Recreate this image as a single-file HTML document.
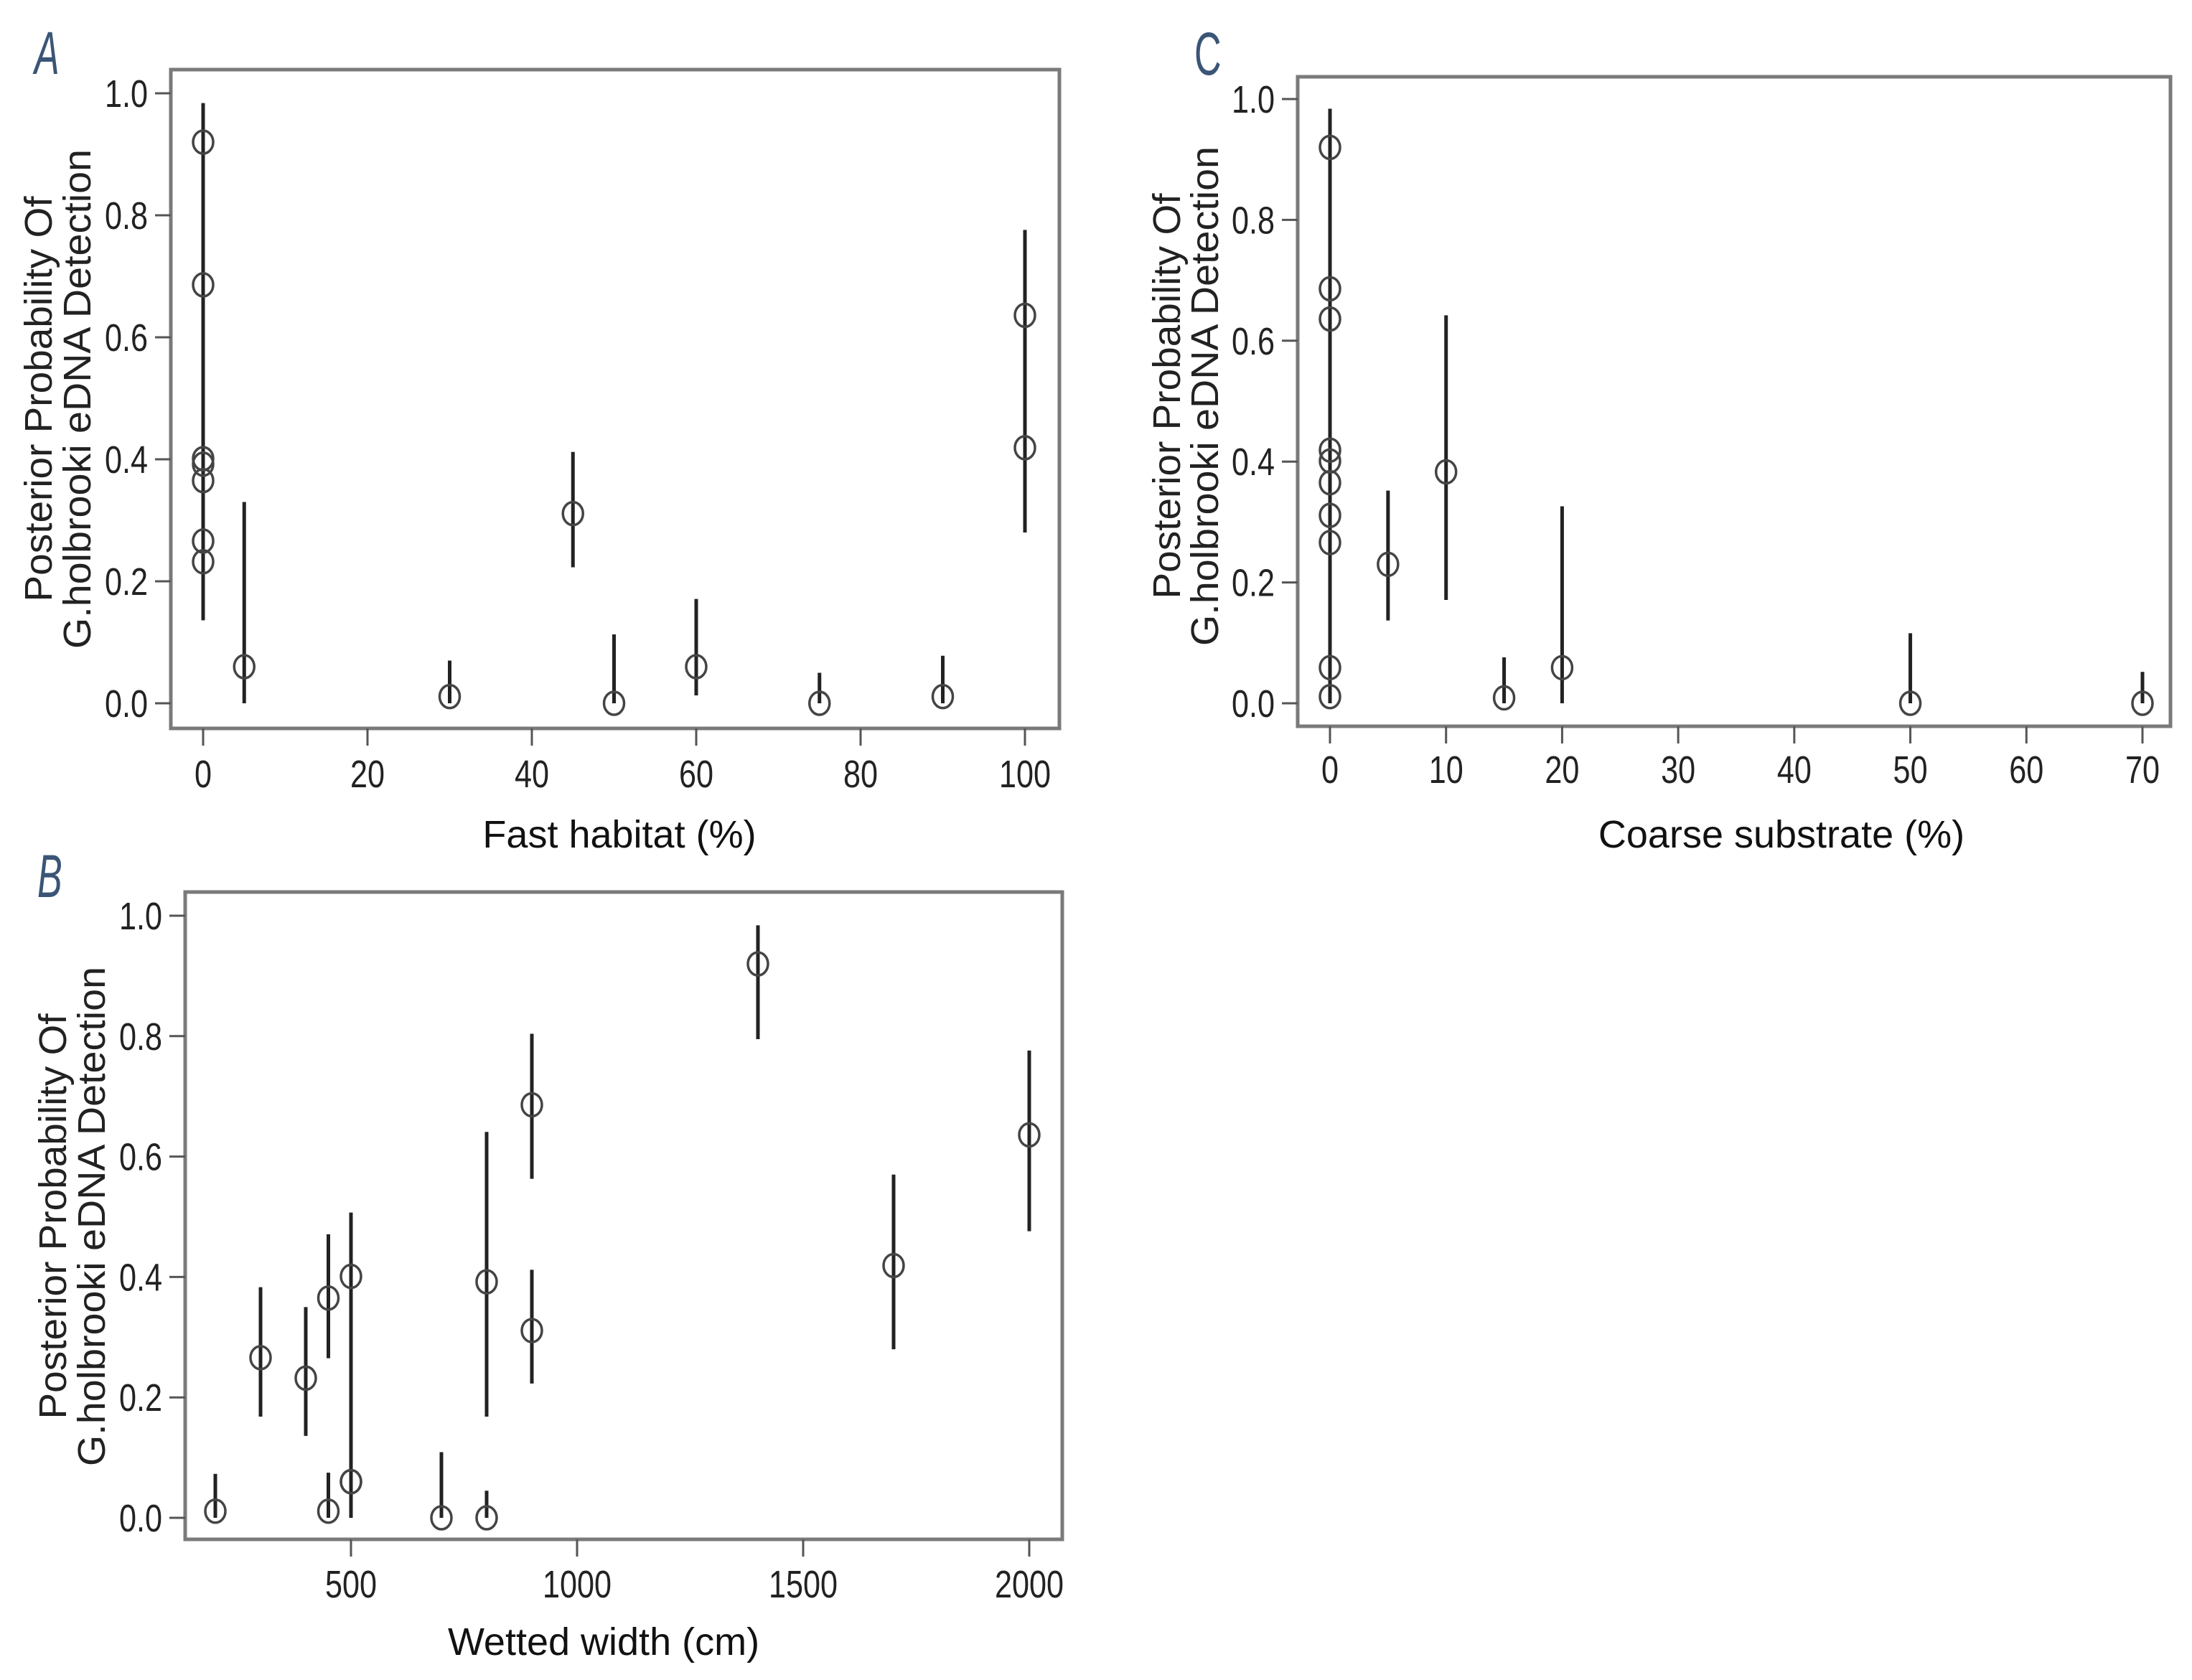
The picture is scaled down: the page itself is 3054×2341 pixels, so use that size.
<!DOCTYPE html>
<html><head><meta charset="utf-8"><style>
html,body{margin:0;padding:0;background:#fff;}
svg{display:block;font-family:"Liberation Sans",Arial,sans-serif;}
</style></head><body>
<svg id="fig" width="3054" height="2341" viewBox="0 0 3054 2341" xmlns="http://www.w3.org/2000/svg"></svg>
<script>
// Panel A: Fast habitat (%)
const fastX   = [0,0,0,0,0,0,0,5,30,45,50,60,75,90,100,100];
const fastP   = [0.920,0.686,0.401,0.392,0.365,0.266,0.232,0.06,0.011,0.311,0.0,0.06,0.0,0.011,0.636,0.419];
const fastLo  = [0.795,0.563,0.30,0.168,0.265,0.168,0.136,0.0,0.0,0.223,0.0,0.013,0.0,0.0,0.476,0.28];
const fastHi  = [0.984,0.804,0.507,0.641,0.471,0.383,0.350,0.33,0.07,0.412,0.113,0.171,0.05,0.078,0.776,0.57];
const fastTicks = [0,20,40,60,80,100];
// Panel B: Wetted width (cm)
const widthX  = [1400,900,500,800,450,300,400,500,200,900,700,500,800,450,2000,1700];
const widthP  = [0.920,0.686,0.401,0.392,0.365,0.266,0.232,0.06,0.011,0.311,0.0,0.06,0.0,0.011,0.636,0.419];
const widthLo = [0.795,0.563,0.30,0.168,0.265,0.168,0.136,0.0,0.0,0.223,0.0,0.013,0.0,0.0,0.476,0.28];
const widthHi = [0.984,0.804,0.507,0.641,0.471,0.383,0.350,0.33,0.073,0.412,0.109,0.171,0.045,0.075,0.776,0.57];
const widthTicks = [500,1000,1500,2000];
// Panel C: Coarse substrate (%)
const coarseX  = [0,0,0,10,0,0,5,20,0,0,50,0,70,15,0,0];
const coarseP  = [0.920,0.686,0.401,0.383,0.365,0.266,0.230,0.059,0.011,0.311,0.0,0.059,0.0,0.009,0.636,0.419];
const coarseLo = [0.795,0.563,0.30,0.171,0.265,0.168,0.137,0.0,0.0,0.223,0.0,0.013,0.0,0.0,0.476,0.28];
const coarseHi = [0.984,0.804,0.507,0.642,0.471,0.383,0.352,0.326,0.07,0.412,0.116,0.171,0.052,0.076,0.776,0.57];
const coarseTicks = [0,10,20,30,40,50,60,70];
const yTicks = [0.0,0.2,0.4,0.6,0.8,1.0];
const yTickLabels = ["0.0","0.2","0.4","0.6","0.8","1.0"];

const NS="http://www.w3.org/2000/svg";
const svg=document.getElementById('fig');
function mk(tag,attrs,parent){const e=document.createElementNS(NS,tag);for(const k in attrs)e.setAttribute(k,attrs[k]);(parent||svg).appendChild(e);return e;}

function panel(cfg){
  const g=mk('g',{});
  
  
  const xs=v=>cfg.px0+(v-cfg.v0)*(cfg.px1-cfg.px0)/(cfg.v1-cfg.v0);
  const ys=v=>cfg.py0+(v)*(cfg.py1-cfg.py0);
  const box=mk('rect',{x:cfg.left,y:cfg.top,width:cfg.right-cfg.left,height:cfg.bottom-cfg.top,fill:'none',stroke:'#7a7a7a','stroke-width':5},g);
  
  
  yTicks.forEach((t,i)=>{
    const y=ys(t);
    const tk=mk('line',{x1:cfg.left-22,x2:cfg.left,y1:y,y2:y,stroke:'#555','stroke-width':3},g);
    
    
    const tx=mk('text',{transform:`translate(${cfg.left-32},${y+19}) scale(0.8,1)`,'text-anchor':'end','font-size':54,fill:'#222'},g);
    tx.textContent=yTickLabels[i];
    
    
  });
  cfg.ticks.forEach(t=>{
    const x=xs(t);
    const tk=mk('line',{x1:x,x2:x,y1:cfg.bottom,y2:cfg.bottom+24,stroke:'#555','stroke-width':3},g);
    
    
    const tx=mk('text',{transform:`translate(${x},${cfg.tickY+19}) scale(0.8,1)`,'text-anchor':'middle','font-size':54,fill:'#222'},g);
    tx.textContent=String(t);
    
    
  });
  cfg.x.forEach((v,i)=>{
    const x=xs(v);
    const b=mk('line',{x1:x,x2:x,y1:ys(cfg.lo[i]),y2:ys(cfg.hi[i]),stroke:'#222','stroke-width':5},g);
    
    
  });
  cfg.x.forEach((v,i)=>{
    const c=mk('ellipse',{cx:xs(v),cy:ys(cfg.p[i]),rx:14,ry:16,fill:'none',stroke:'#444','stroke-width':3.5},g);
    
    
  });
  const xt=mk('text',{x:cfg.xTitleX,y:cfg.xTitleY+19,'text-anchor':'middle','font-size':54,fill:'#111'},g);
  xt.textContent=cfg.xTitle;
  
  
  const l1=mk('text',{transform:`translate(${cfg.yb1},${cfg.yc}) rotate(-90)`,'text-anchor':'middle','font-size':54,fill:'#222',textLength:565,lengthAdjust:'spacingAndGlyphs'},g);
  l1.textContent='Posterior Probability Of';
  
  
  const l2=mk('text',{transform:`translate(${cfg.yb2},${cfg.yc}) rotate(-90)`,'text-anchor':'middle','font-size':54,fill:'#222',textLength:696,lengthAdjust:'spacingAndGlyphs'},g);
  l2.textContent='G.holbrooki eDNA Detection';
  
  
  const pl=mk('text',{transform:`translate(${cfg.lx},${cfg.ly}) scale(0.62,1)`,'font-size':84,fill:'#3a5576','font-style':cfg.italic?'italic':'normal'},g);
  pl.textContent=cfg.letter;
  
  
}

panel({name:'panel-a-fast-habitat',left:238,top:97,right:1476,bottom:1015,px0:283,px1:1428,v0:0,v1:100,py0:980,py1:130,
  ticks:fastTicks,tickY:1078,x:fastX,p:fastP,lo:fastLo,hi:fastHi,xTitle:'Fast habitat (%)',xTitleX:863,xTitleY:1162,
  yb1:72,yb2:126,yc:556,letter:'A',lx:48,ly:103,italic:true});
panel({name:'panel-b-wetted-width',left:258,top:1243,right:1480,bottom:2145,px0:489,px1:804,v0:500,v1:1000,py0:2115,py1:1276,
  ticks:widthTicks,tickY:2207,x:widthX,p:widthP,lo:widthLo,hi:widthHi,xTitle:'Wetted width (cm)',xTitleX:841,xTitleY:2287,
  yb1:92,yb2:146,yc:1695,letter:'B',lx:52,ly:1250,italic:true});
panel({name:'panel-c-coarse-substrate',left:1808,top:107,right:3024,bottom:1012,px0:1853,px1:2985,v0:0,v1:70,py0:980,py1:138,
  ticks:coarseTicks,tickY:1072,x:coarseX,p:coarseP,lo:coarseLo,hi:coarseHi,xTitle:'Coarse substrate (%)',xTitleX:2482,xTitleY:1162,
  yb1:1644,yb2:1697,yc:552,letter:'C',lx:1664,ly:104,italic:false});
</script>
</body></html>
